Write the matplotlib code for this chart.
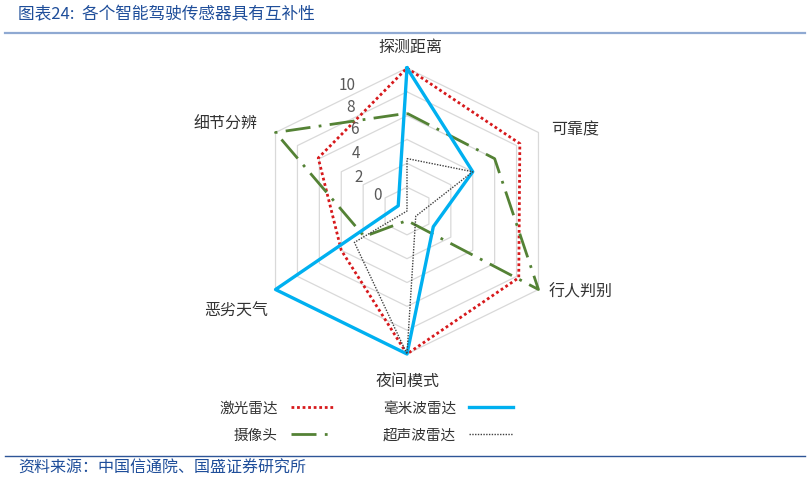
import numpy as np
import matplotlib
matplotlib.use("Agg")
import matplotlib.pyplot as plt
from matplotlib.lines import Line2D

plt.rcParams['font.family'] = ['Noto Sans CJK SC', 'DejaVu Sans']

categories = ['探测距离', '可靠度', '行人判别', '夜间模式', '恶劣天气', '细节分辨']
series_names = ['激光雷达', '摄像头', '毫米波雷达', '超声波雷达']
lidar = [10, 8.3, 8.2, 10, 4.0, 6.1]
camera = [6.2, 6.0, 10, -1.2, 1.9, 10]
mmwave = [10, 4.0, 0.4, 10, 10, -1.2]
ultrasonic = [2.4, 4.0, -1.2, 10, 2.8, -2]
r_ticks = [0, 2, 4, 6, 8, 10]
r_min, r_max = -2, 10

W, H = 810, 482
fig = plt.figure(figsize=(W / 100, H / 100), dpi=100)

def fx(x):
    return x / W

def fy(y):
    return 1 - y / H

# axes geometry (pixels)
cx, cy = 407, 211
rx, ry = 157.3, 143
ax = fig.add_axes([fx(cx - rx), fy(cy + ry), 2 * rx / W, 2 * ry / H], projection='polar')
ax.set_aspect('auto')
ax.set_ylim(r_min, r_max)
ax.grid(False)
ax.set_xticks([])
ax.set_yticks([])
ax.spines['polar'].set_visible(False)
ax.patch.set_alpha(0)

a = 33.3
theta = np.deg2rad([90, a, -a, -90, -180 + a, 180 - a])
theta_c = np.append(theta, theta[0])

def closed(v):
    return list(v) + [v[0]]

# hexagonal grid
for v in r_ticks:
    ax.plot(theta_c, [v] * 7, color='#d9d9d9', lw=0.9, zorder=1, clip_on=False)

styles = [
    dict(color='#d7191c', lw=2.0, linestyle=(0, (1, 1))),
    dict(color='#548235', lw=2.0, linestyle=(0, (9, 3, 1, 3))),
    dict(color='#00b0f0', lw=2.4, linestyle='-'),
    dict(color='#404040', lw=1.0, linestyle=(0, (1, 1))),
]
data = [lidar, camera, mmwave, ultrasonic]
handles = []
for name, vals, st in zip(series_names, data, styles):
    ln, = ax.plot(theta_c, closed(vals), label=name, zorder=3, clip_on=False, **st)
    handles.append(ln)

# radial tick labels
tick_pos = {10: (347, 85), 8: (351, 108), 6: (354, 130), 4: (356, 153), 2: (359, 177), 0: (377, 195)}
for v in r_ticks:
    x, y = tick_pos[v]
    fig.text(fx(x), fy(y), str(v), ha='center', va='center', fontsize=11, color='#595959')

# category labels
cat_pos = [(410, 47), (575, 130), (581, 292), (408, 381), (236, 311), (225, 124)]
for name, (x, y) in zip(categories, cat_pos):
    fig.text(fx(x), fy(y), name, ha='center', va='center', fontsize=11.5, color='#333333')

# title, rules, source
fig.text(fx(18), fy(15), '图表24:  各个智能驾驶传感器具有互补性', ha='left', va='center',
         fontsize=12, color='#1f4e9a', style='italic')
fig.add_artist(Line2D([fx(5), fx(805)], [fy(33), fy(33)], color='#8fa9d2', lw=1.6))
fig.add_artist(Line2D([fx(5), fx(805)], [fy(456), fy(456)], color='#2e5597', lw=1.0))
fig.text(fx(18), fy(468), '资料来源：中国信通院、国盛证券研究所', ha='left', va='center',
         fontsize=11.5, color='#1f4e9a', style='italic')

fig.legend(handles=handles, labels=series_names, loc='center', bbox_to_anchor=(fx(366), fy(422)),
           ncol=2, frameon=False, markerfirst=False, fontsize=10.5, handlelength=3.0,
           handletextpad=0.9, columnspacing=3.3, labelspacing=0.9, labelcolor='#333333')

fig.savefig('out.png', dpi=100)
